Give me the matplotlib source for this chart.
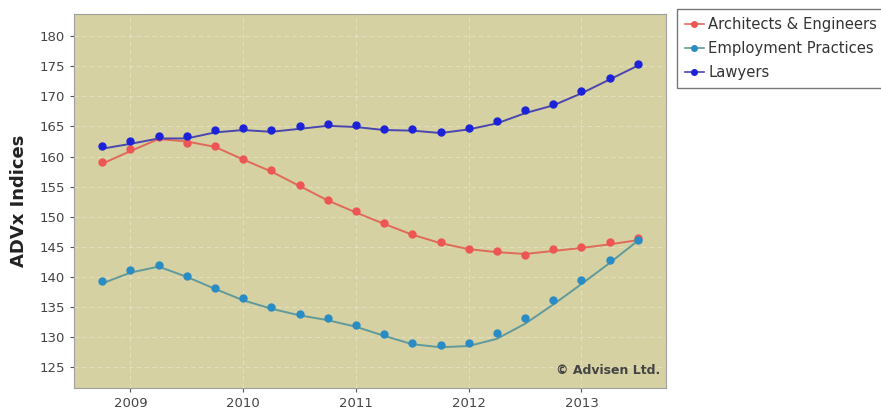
import numpy as np
import matplotlib
matplotlib.use("Agg")
import matplotlib.pyplot as plt

# quarterly dates (decimal years)
fechas = [2008.75, 2009.0, 2009.25, 2009.5, 2009.75, 2010.0, 2010.25, 2010.5,
          2010.75, 2011.0, 2011.25, 2011.5, 2011.75, 2012.0, 2012.25, 2012.5,
          2012.75, 2013.0, 2013.25, 2013.5]

# index points
arquitectos = [159.1, 161.2, 163.3, 162.2, 161.8, 159.6, 157.7, 155.3, 152.8, 150.9,
               149.0, 147.1, 145.8, 144.6, 144.3, 143.7, 144.6, 145.0, 145.8, 146.4]
empleo = [139.3, 141.1, 141.9, 140.2, 138.2, 136.4, 135.0, 133.9, 133.2, 132.0,
          130.5, 129.0, 128.6, 129.0, 130.7, 133.1, 136.1, 139.5, 142.8, 146.1]
abogados = [161.7, 162.5, 163.4, 163.4, 164.4, 164.8, 164.4, 165.0, 165.4, 165.2,
            164.6, 164.6, 164.1, 164.8, 165.9, 167.7, 168.8, 170.9, 173.1, 175.4]

# smoothed trend lines
arquitectos_t = [158.8, 160.9, 162.9, 162.5, 161.6, 159.5, 157.5, 155.1, 152.7, 150.7,
                 148.8, 147.0, 145.6, 144.6, 144.1, 143.8, 144.3, 144.8, 145.4, 146.1]
empleo_t = [138.9, 140.7, 141.7, 140.0, 138.0, 136.1, 134.7, 133.6, 132.8, 131.7,
            130.2, 128.8, 128.3, 128.5, 129.7, 132.2, 135.4, 138.8, 142.3, 146.0]
abogados_t = [161.3, 162.1, 163.0, 163.0, 164.0, 164.4, 164.1, 164.6, 165.1, 164.9,
              164.4, 164.3, 163.9, 164.5, 165.5, 167.2, 168.5, 170.5, 172.8, 175.1]

anios = [2009, 2010, 2011, 2012, 2013]
yticks = [125, 130, 135, 140, 145, 150, 155, 160, 165, 170, 175, 180]

series = [
    ("Architects & Engineers", arquitectos, arquitectos_t, "#ee5555", "#e06a5a"),
    ("Employment Practices", empleo, empleo_t, "#2a8cc4", "#5f9a9c"),
    ("Lawyers", abogados, abogados_t, "#1c22d8", "#4a46b0"),
]

fig = plt.figure(figsize=(8.81, 4.09), dpi=100)
ax = fig.add_axes([0.084, 0.051, 0.672, 0.915])
ax.set_facecolor("#d6d1a2")

for nombre, puntos, tendencia, c_punto, c_linea in series:
    ax.plot(fechas, tendencia, color=c_linea, lw=1.4, zorder=2)
    ax.plot(fechas, puntos, ls="none", marker="o", ms=5, color=c_punto, zorder=3)

ax.set_xlim(2008.5, 2013.75)
ax.set_ylim(121.5, 183.7)
ax.set_xticks(anios)
ax.set_xticklabels([str(a) for a in anios])
ax.set_yticks(yticks)
ax.tick_params(colors="#555555", labelsize=9.5, length=3)
for lab in ax.get_xticklabels() + ax.get_yticklabels():
    lab.set_color("#444444")
ax.grid(True, color="#e4dfbc", lw=0.8, ls=(0, (4, 3)))
ax.set_axisbelow(True)
for s in ax.spines.values():
    s.set_color("#a0a0a0")

ax.set_ylabel("ADVx Indices", fontsize=13, fontweight="bold", color="#222222", labelpad=8)

ax.text(0.99, 0.03, "© Advisen Ltd.", transform=ax.transAxes, ha="right", va="bottom",
        fontsize=9, fontweight="bold", color="#444444")

# legend outside the axes
handles = [plt.Line2D([], [], color=c_linea, marker="o", ms=4, mfc=c_punto, mec=c_punto, lw=1.2)
           for _, _, _, c_punto, c_linea in series]
leg = fig.legend(handles, [s[0] for s in series], loc="upper left",
                 bbox_to_anchor=(0.768, 0.978), fontsize=10.6, frameon=True,
                 fancybox=False, handlelength=1.3, handletextpad=0.3,
                 borderpad=0.55, labelspacing=0.6, borderaxespad=0)
leg.get_frame().set_edgecolor("#555555")
leg.get_frame().set_linewidth(1.0)
for t in leg.get_texts():
    t.set_color("#333333")

fig.savefig("out.png", dpi=100)
